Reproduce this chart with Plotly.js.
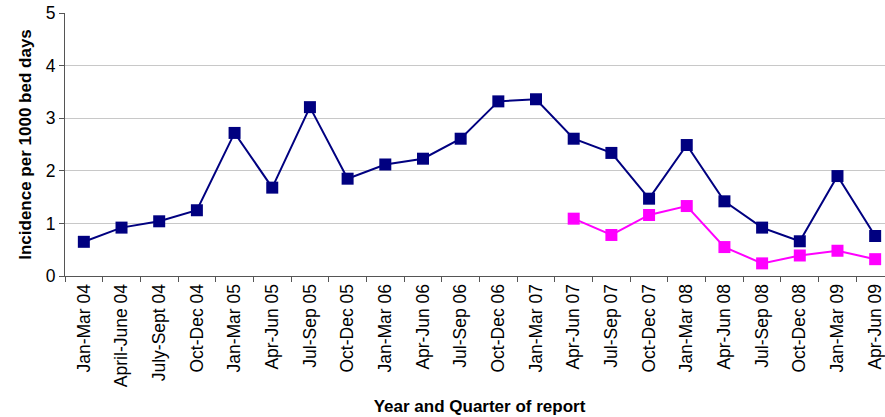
<!DOCTYPE html>
<html>
<head>
<meta charset="utf-8">
<script src="https://cdn.plot.ly/plotly-3.0.1.min.js"></script>
<style>
html,body{margin:0;padding:0;overflow:hidden;background:#fff;}
#chart{width:894px;height:417px;}
</style>
</head>
<body>
<div id="chart"></div>
<script>
const categories = ["Jan-Mar 04","April-June 04","July-Sept 04","Oct-Dec 04","Jan-Mar 05","Apr-Jun 05","Jul-Sep 05","Oct-Dec 05","Jan-Mar 06","Apr-Jun 06","Jul-Sep 06","Oct-Dec 06","Jan-Mar 07","Apr-Jun 07","Jul-Sep 07","Oct-Dec 07","Jan-Mar 08","Apr-Jun 08","Jul-Sep 08","Oct-Dec 08","Jan-Mar 09","Apr-Jun 09"];
const seriesBlue = [0.65,0.92,1.04,1.25,2.72,1.68,3.21,1.85,2.12,2.23,2.61,3.32,3.36,2.61,2.34,1.47,2.49,1.42,0.92,0.66,1.90,0.76];
const seriesMagenta = [null,null,null,null,null,null,null,null,null,null,null,null,null,1.09,0.78,1.16,1.33,0.55,0.24,0.39,0.48,0.32];
const yTicks = [0,1,2,3,4,5];

const font = "Arial, 'Liberation Sans', sans-serif";
const traces = [
  {x: categories, y: seriesBlue, type: "scatter", mode: "lines+markers",
   line: {color: "#000080", width: 2}, marker: {symbol: "square", size: 12, color: "#000080"}, connectgaps: false},
  {x: categories, y: seriesMagenta, type: "scatter", mode: "lines+markers",
   line: {color: "#FF00FF", width: 2}, marker: {symbol: "square", size: 12, color: "#FF00FF"}, connectgaps: false}
];
const layout = {
  width: 894, height: 417,
  margin: {l: 65, r: 0, t: 12.5, b: 141},
  paper_bgcolor: "#fff", plot_bgcolor: "#fff",
  showlegend: false,
  font: {family: font, color: "#000", size: 17.5},
  xaxis: {
    type: "category", range: [-0.5, 21.5], tickangle: -90,
    tickson: "boundaries", ticks: "outside", ticklen: 5, tickcolor: "#555",
    showgrid: false, showline: true, linecolor: "#555", linewidth: 1,
    tickfont: {family: font, size: 17.5, color: "#000"}, automargin: false,
    title: {text: "<b>Year and Quarter of report</b>", font: {family: font, size: 17, color: "#000"}, standoff: 13}
  },
  yaxis: {
    range: [0, 5], tickvals: yTicks, ticks: "outside", ticklen: 5, tickcolor: "#555",
    showgrid: true, gridcolor: "#c8c8c8", gridwidth: 1, zeroline: false,
    showline: true, linecolor: "#555", linewidth: 1,
    tickfont: {family: font, size: 17.5, color: "#000"}, automargin: false,
    title: {text: "<b>Incidence per 1000 bed days</b>", font: {family: font, size: 17, color: "#000"}, standoff: 9}
  }
};
Plotly.newPlot("chart", traces, layout, {displayModeBar: false, staticPlot: true});
</script>
</body>
</html>
